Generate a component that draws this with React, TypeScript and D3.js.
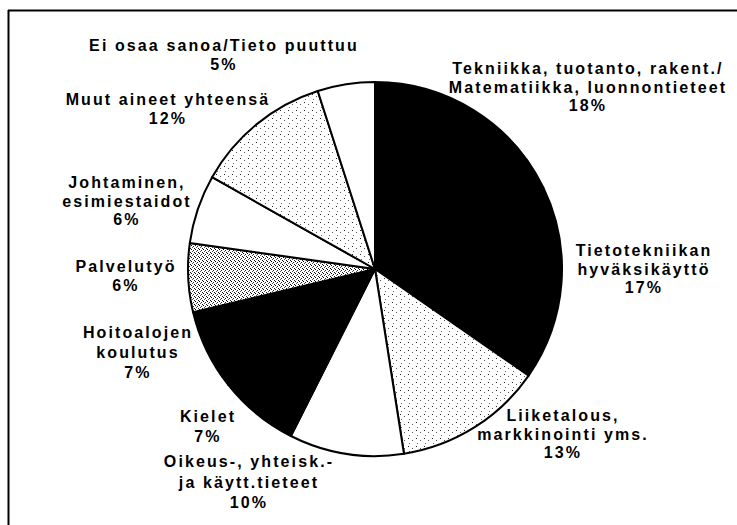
import * as d3 from "d3";

// slices clockwise from 12 o'clock
const categories = [
  "Tekniikka, tuotanto, rakent./Matematiikka, luonnontieteet",
  "Tietotekniikan hyväksikäyttö",
  "Liiketalous, markkinointi yms.",
  "Oikeus-, yhteisk.- ja käytt.tieteet",
  "Kielet",
  "Hoitoalojen koulutus",
  "Palvelutyö",
  "Johtaminen, esimiestaidot",
  "Muut aineet yhteensä",
  "Ei osaa sanoa/Tieto puuttuu",
];
const shares = [18, 17, 13, 10, 7, 7, 6, 6, 12, 5];
const fills = ["black", "black", "light", "white", "black", "black", "dense", "white", "light", "white"];

// label text as printed, line by line
const labelLines = [
  ["Tekniikka, tuotanto, rakent./", "Matematiikka, luonnontieteet", "18%"],
  ["Tietotekniikan", "hyväksikäyttö", "17%"],
  ["Liiketalous,", "markkinointi yms.", "13%"],
  ["Oikeus-, yhteisk.-", "ja käytt.tieteet", "10%"],
  ["Kielet", "7%"],
  ["Hoitoalojen", "koulutus", "7%"],
  ["Palvelutyö", "6%"],
  ["Johtaminen,", "esimiestaidot", "6%"],
  ["Muut aineet yhteensä", "12%"],
  ["Ei osaa sanoa/Tieto puuttuu", "5%"],
];
// label anchor (centre x, first baseline y, line pitch)
const labelPos: [number, number, number][] = [
  [588, 74, 18.5],
  [644, 256, 18.5],
  [563, 421, 18.5],
  [249, 467, 20.5],
  [208, 422, 20],
  [138, 338, 20],
  [126, 272, 18.5],
  [127, 188, 18.5],
  [168, 105, 18.5],
  [224, 51, 18.5],
];

const W = 737;
const H = 525;
const cx = 375;
const cy = 269;
const r = 187;

const fillFor = (f: string) =>
  f === "black" ? "#000" : f === "white" ? "#fff" : f === "light" ? "url(#stipLight)" : "url(#stipDense)";

export default function App() {
  const data = categories.map((c, i) => ({ name: c, value: shares[i], fill: fills[i] }));
  const pie = d3.pie<{ name: string; value: number; fill: string }>().value((d) => d.value).sort(null);
  const arc = d3.arc<d3.PieArcDatum<{ name: string; value: number; fill: string }>>().innerRadius(0).outerRadius(r);
  const arcs = pie(data);

  return (
    <div style={{ position: "absolute", left: 0, top: 0 }}>
      <svg width={W} height={H} style={{ display: "block", background: "#fff" }}>
        <defs>
          <pattern id="stipLight" width="8" height="8" patternUnits="userSpaceOnUse">
            <rect width="8" height="8" fill="#fff" />
            <rect x="1" y="1" width="1" height="1" fill="#222" />
            <rect x="5" y="3" width="1" height="1" fill="#555" />
            <rect x="2" y="6" width="1" height="1" fill="#666" />
          </pattern>
          <pattern id="stipDense" width="4" height="4" patternUnits="userSpaceOnUse">
            <rect width="4" height="4" fill="#fff" />
            <rect x="0" y="0" width="1" height="1" fill="#000" />
            <rect x="2" y="1" width="1" height="1" fill="#222" />
            <rect x="1" y="2" width="1" height="1" fill="#555" />
            <rect x="3" y="3" width="1" height="1" fill="#111" />
          </pattern>
        </defs>
        <line x1={8} y1={10.5} x2={W} y2={10.5} stroke="#000" strokeWidth={2} />
        <line x1={8.5} y1={10} x2={8.5} y2={H} stroke="#000" strokeWidth={2} />
        <g transform={`translate(${cx},${cy})`}>
          {arcs.map((a, i) => (
            <path key={i} d={arc(a) || ""} fill={fillFor(a.data.fill)} stroke="#000" strokeWidth={2} strokeLinejoin="round" />
          ))}
        </g>
        <g
          fontFamily="'Liberation Sans', Arial, Helvetica, sans-serif"
          fontWeight="bold"
          fontSize={16}
          letterSpacing={2.1}
          textAnchor="middle"
          fill="#000"
        >
          {labelLines.map((lines, i) => (
            <text key={i} x={labelPos[i][0]} y={labelPos[i][1]}>
              {lines.map((t, j) => (
                <tspan key={j} x={labelPos[i][0]} dy={j === 0 ? 0 : labelPos[i][2]}>
                  {t}
                </tspan>
              ))}
            </text>
          ))}
        </g>
      </svg>
    </div>
  );
}
